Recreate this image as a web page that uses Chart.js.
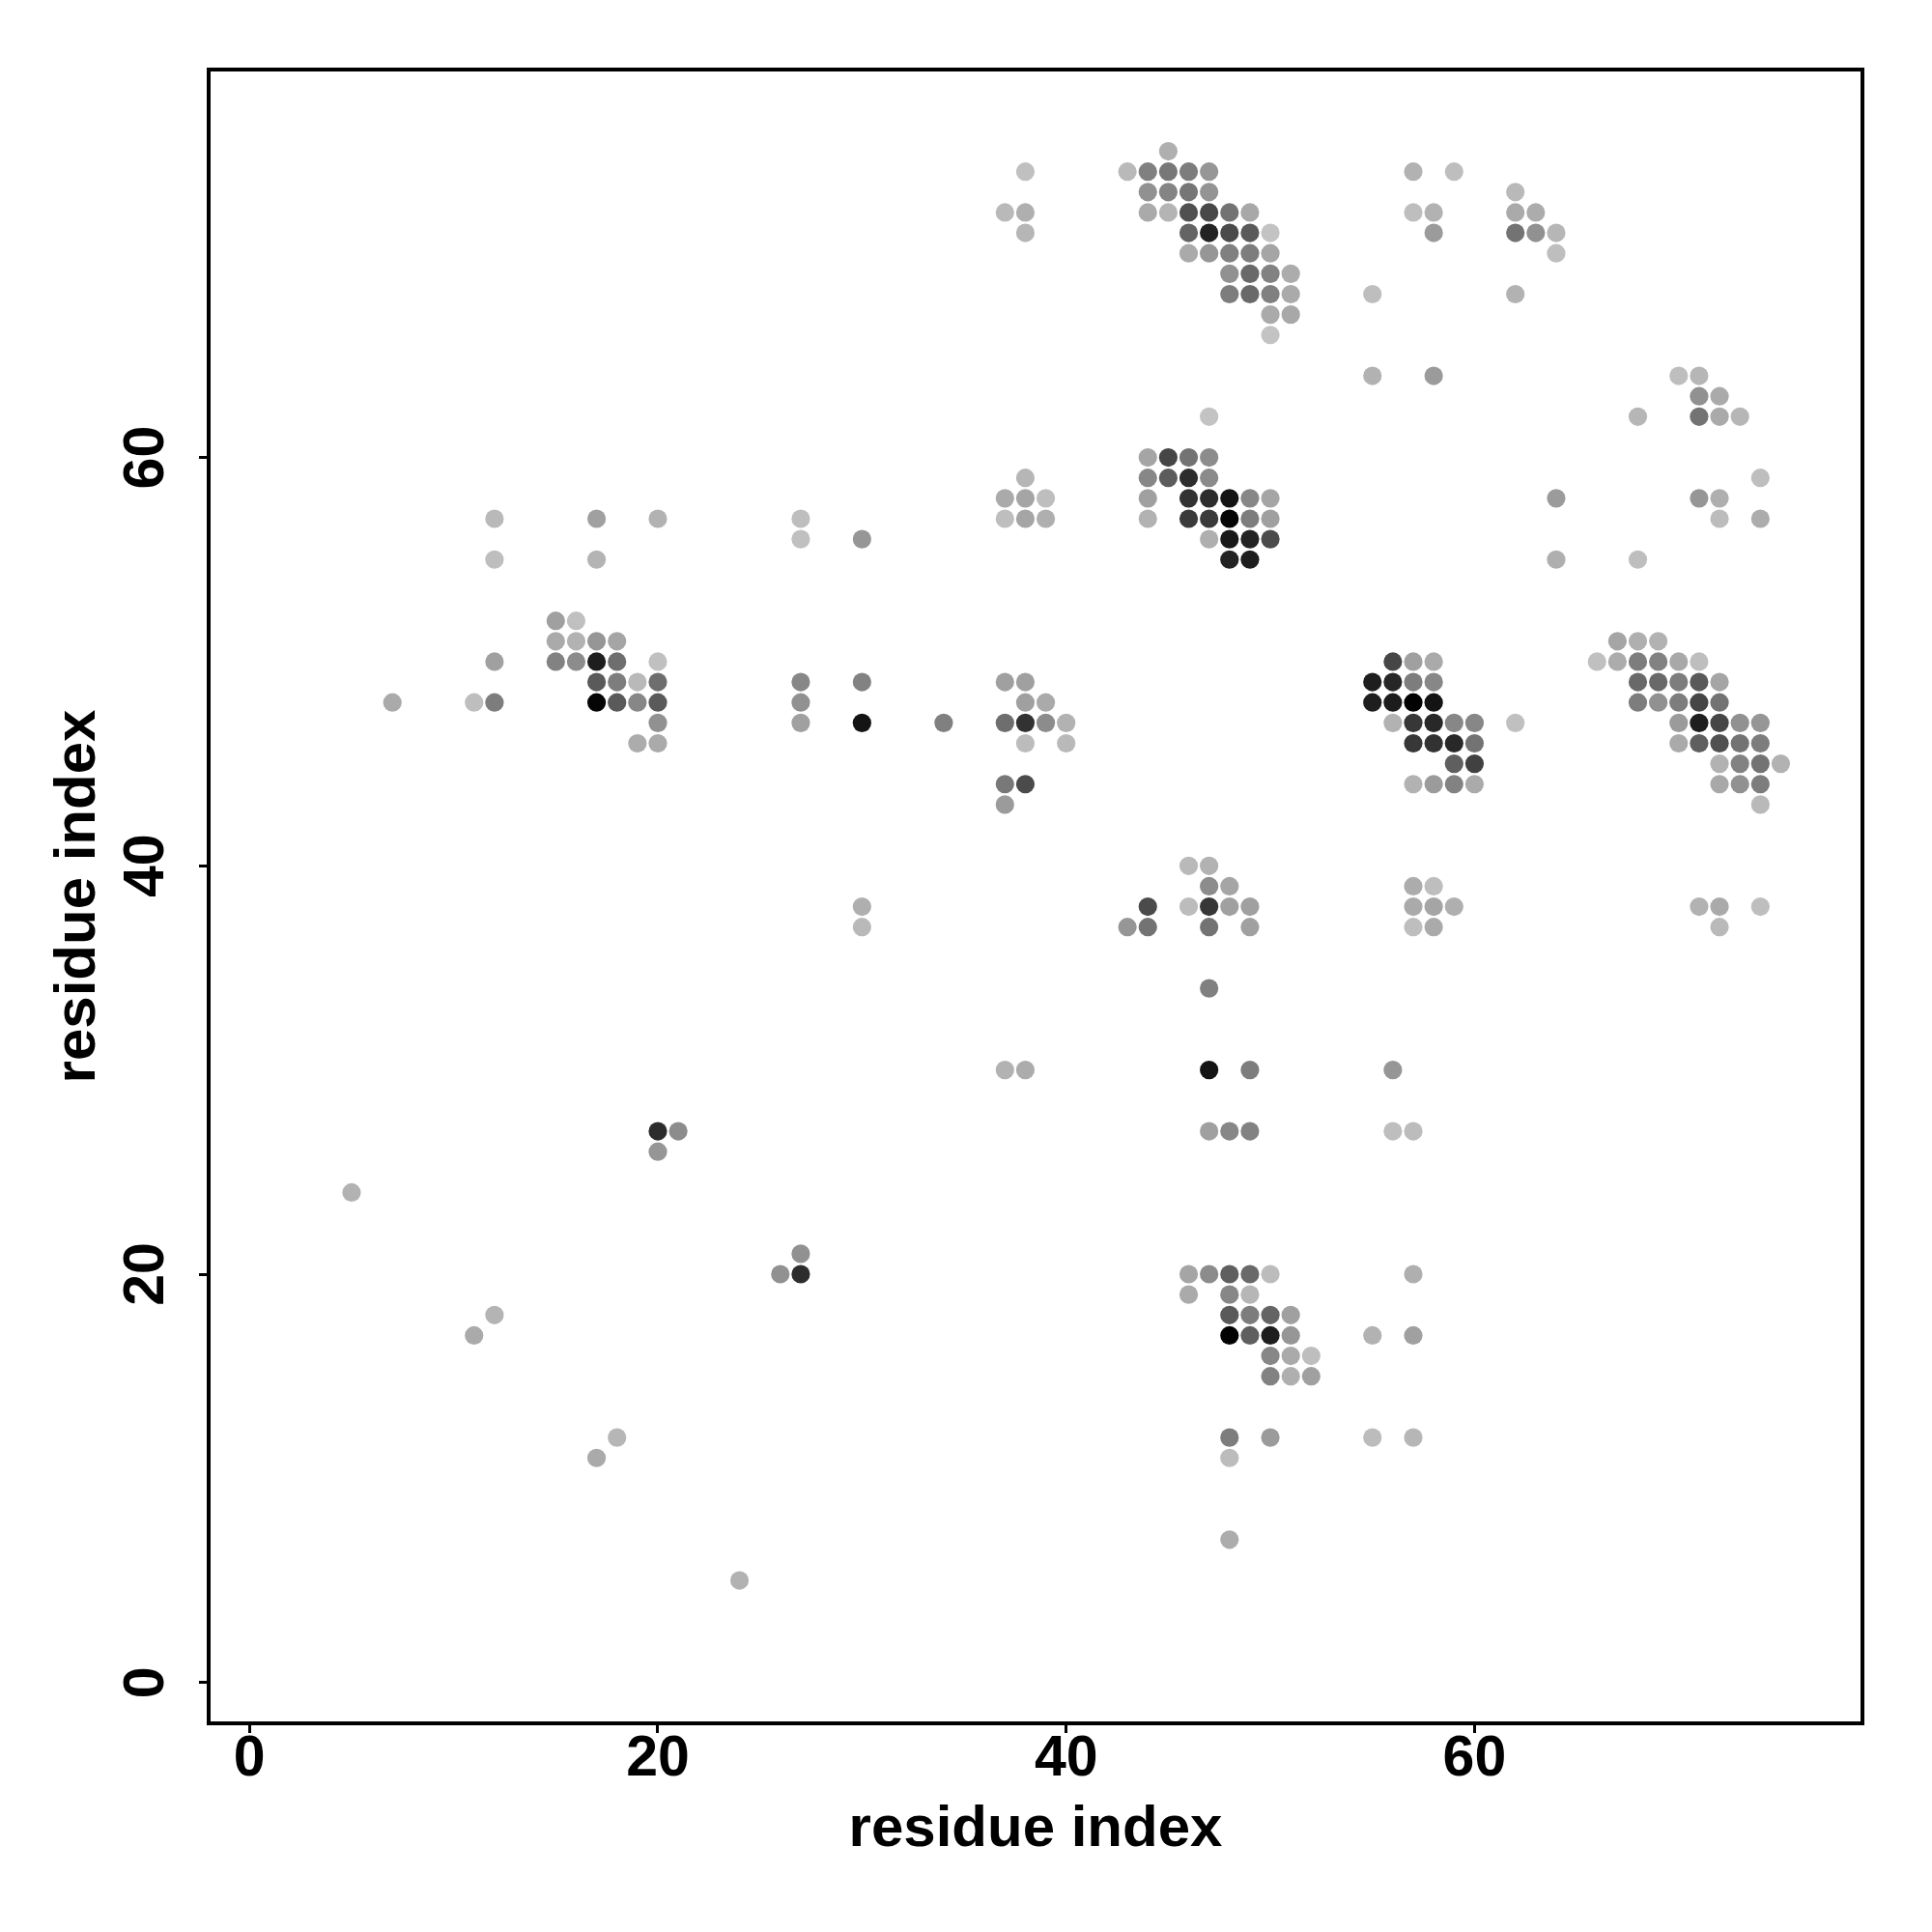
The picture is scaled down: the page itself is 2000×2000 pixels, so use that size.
<!DOCTYPE html>
<html>
<head>
<meta charset="utf-8">
<title>residue contacts</title>
<script src="https://cdn.jsdelivr.net/npm/chart.js@4"></script>
<style>
    html, body { margin: 0; padding: 0; background: #fff; }
    canvas { display: block; }
</style>
</head>
<body>
<canvas id="myChart" width="2000" height="2000"></canvas>
<script>
const tickValues = [0, 20, 40, 60]
const axisTitle = "residue index"

// one entry per row of the map: y residue, the x residues on it, how dark each dot is (0-255)
const rowResidue = [75, 74, 73, 72, 71, 70, 69, 68, 67, 66, 64, 63, 62, 60, 59, 58, 57, 56, 55, 52, 51, 50, 49, 48, 47, 46, 45, 44, 43, 40, 39, 38, 37, 34, 30, 27, 26, 24, 21, 20, 19, 18, 17, 16, 15, 12, 11, 7, 5]

const rowPartners = [
    [45],
    [38, 43, 44, 45, 46, 47, 57, 59],
    [44, 45, 46, 47, 62],
    [37, 38, 44, 45, 46, 47, 48, 49, 57, 58, 62, 63],
    [38, 46, 47, 48, 49, 50, 58, 62, 63, 64],
    [46, 47, 48, 49, 50, 64],
    [48, 49, 50, 51],
    [48, 49, 50, 51, 55, 62],
    [50, 51],
    [50],
    [55, 58, 70, 71],
    [71, 72],
    [47, 68, 71, 72, 73],
    [44, 45, 46, 47],
    [38, 44, 45, 46, 47, 74],
    [37, 38, 39, 44, 46, 47, 48, 49, 50, 64, 71, 72],
    [12, 17, 20, 27, 37, 38, 39, 44, 46, 47, 48, 49, 50, 72, 74],
    [27, 30, 47, 48, 49, 50],
    [12, 17, 48, 49, 64, 68],
    [15, 16],
    [15, 16, 17, 18, 67, 68, 69],
    [12, 15, 16, 17, 18, 20, 56, 57, 58, 66, 67, 68, 69, 70, 71],
    [17, 18, 19, 20, 27, 30, 37, 38, 55, 56, 57, 58, 68, 69, 70, 71, 72],
    [7, 11, 12, 17, 18, 19, 20, 27, 38, 39, 55, 56, 57, 58, 68, 69, 70, 71, 72],
    [20, 27, 30, 34, 37, 38, 39, 40, 56, 57, 58, 59, 60, 62, 70, 71, 72, 73, 74],
    [19, 20, 38, 40, 57, 58, 59, 60, 70, 71, 72, 73, 74],
    [59, 60, 72, 73, 74, 75],
    [37, 38, 57, 58, 59, 60, 72, 73, 74],
    [37, 74],
    [46, 47],
    [47, 48, 57, 58],
    [30, 44, 46, 47, 48, 49, 57, 58, 59, 71, 72, 74],
    [30, 43, 44, 47, 49, 57, 58, 72],
    [47],
    [37, 38, 47, 49, 56],
    [20, 21, 47, 48, 49, 56, 57],
    [20],
    [5],
    [27],
    [26, 27, 46, 47, 48, 49, 50, 57],
    [46, 48, 49],
    [12, 48, 49, 50, 51],
    [11, 48, 49, 50, 51, 55, 57],
    [50, 51, 52],
    [50, 51, 52],
    [18, 48, 50, 55, 57],
    [17, 48],
    [48],
    [24]
]

const rowStrength = [
    [80],
    [63, 70, 127, 135, 130, 105, 77, 65],
    [110, 123, 137, 107, 70],
    [70, 80, 85, 75, 175, 183, 140, 87, 65, 77, 85, 83],
    [73, 155, 220, 180, 165, 60, 100, 140, 110, 73],
    [85, 105, 127, 130, 90, 65],
    [110, 150, 125, 83],
    [130, 150, 127, 85, 65, 77],
    [85, 87],
    [60],
    [77, 100, 65, 73],
    [110, 85],
    [60, 73, 140, 85, 73],
    [90, 185, 140, 115],
    [73, 120, 163, 210, 117, 65],
    [85, 90, 65, 95, 205, 210, 235, 120, 90, 100, 105, 80],
    [70, 95, 77, 65, 65, 90, 80, 77, 197, 197, 250, 130, 95, 67, 83],
    [63, 105, 80, 230, 220, 180],
    [65, 75, 220, 225, 80, 65],
    [95, 63],
    [85, 77, 105, 90, 90, 80, 77],
    [95, 125, 115, 225, 145, 63, 185, 95, 85, 63, 83, 130, 125, 87, 65],
    [165, 130, 70, 145, 120, 125, 95, 95, 225, 217, 130, 120, 150, 150, 130, 165, 90],
    [85, 65, 130, 250, 165, 120, 165, 110, 95, 85, 225, 227, 253, 235, 130, 110, 130, 185, 140],
    [110, 95, 235, 127, 145, 205, 115, 77, 77, 200, 215, 120, 120, 63, 100, 225, 185, 110, 105],
    [83, 85, 67, 70, 200, 205, 215, 140, 85, 160, 175, 140, 130],
    [160, 190, 77, 125, 140, 77],
    [135, 180, 77, 100, 125, 85, 87, 110, 130],
    [100, 70],
    [70, 77],
    [115, 90, 83, 65],
    [80, 180, 67, 200, 95, 95, 85, 90, 80, 77, 85, 65],
    [70, 105, 140, 140, 95, 65, 85, 70],
    [127],
    [77, 83, 235, 130, 105],
    [210, 115, 95, 120, 125, 65, 67],
    [105],
    [77],
    [110],
    [110, 210, 90, 115, 160, 150, 67, 80],
    [85, 120, 73],
    [75, 165, 130, 155, 95],
    [85, 252, 160, 225, 105, 77, 95],
    [120, 85, 65],
    [125, 80, 95],
    [73, 130, 100, 67, 73],
    [85, 67],
    [83],
    [77]
]

Chart.defaults.font.family = "'Liberation Sans', Arial, sans-serif"
Chart.defaults.font.weight = "bold"
Chart.defaults.color = "#000"

var points = []
var dotColors = []
rowResidue.forEach(function (y, i) {
    rowPartners[i].forEach(function (x, j) {
        var grey = 255 - rowStrength[i][j]
        points.push({ x: x, y: y })
        dotColors.push("rgb(" + grey + "," + grey + "," + grey + ")")
    })
})

// box round the plot area, R style
const plotBox = {
    id: "plotBox",
    afterDraw: function (chart) {
        var a = chart.chartArea
        var ctx = chart.ctx
        ctx.save()
        ctx.strokeStyle = "#000"
        ctx.lineWidth = 4
        ctx.strokeRect(a.left, a.top, a.right - a.left, a.bottom - a.top)
        ctx.restore()
    }
}

function setTicks(scale) {
    scale.ticks = tickValues.map(function (v) { return { value: v, label: String(v) } })
}

var ctx = document.getElementById('myChart').getContext('2d');
var chart = new Chart(ctx, {
    type: 'scatter',
    data: {
        datasets: [{
            label: "contacts",
            data: points,
            pointRadius: 9.6,
            pointHoverRadius: 9.6,
            pointBorderWidth: 0,
            pointBackgroundColor: dotColors
        }]
    },
    options: {
        responsive: false,
        devicePixelRatio: 1,
        animation: false,
        layout: { padding: { top: 72, right: 72, left: 0, bottom: 0 } },
        plugins: { legend: { display: false }, tooltip: { enabled: false } },
        scales: {
            x: {
                type: 'linear',
                min: -2,
                max: 79,
                afterBuildTicks: setTicks,
                afterFit: function (scale) { scale.height = 216 },
                grid: { drawOnChartArea: false, tickLength: 10, tickWidth: 3, tickColor: "#000" },
                border: { display: false },
                ticks: { autoSkip: false, maxRotation: 0, padding: -2, font: { size: 59, lineHeight: 1 } },
                title: { display: true, text: axisTitle, padding: { top: 0, bottom: 70 }, font: { size: 60 } }
            },
            y: {
                type: 'linear',
                min: -2,
                max: 79,
                afterBuildTicks: setTicks,
                afterFit: function (scale) { scale.width = 216 },
                grid: { drawOnChartArea: false, tickLength: 10, tickWidth: 3, tickColor: "#000" },
                border: { display: false },
                ticks: { autoSkip: false, minRotation: 90, crossAlign: 'center', padding: 20, font: { size: 59, lineHeight: 1 } },
                title: { display: true, text: axisTitle, padding: { top: 45, bottom: 0 }, font: { size: 60 } }
            }
        }
    },
    plugins: [plotBox]
});
</script>
</body>
</html>
